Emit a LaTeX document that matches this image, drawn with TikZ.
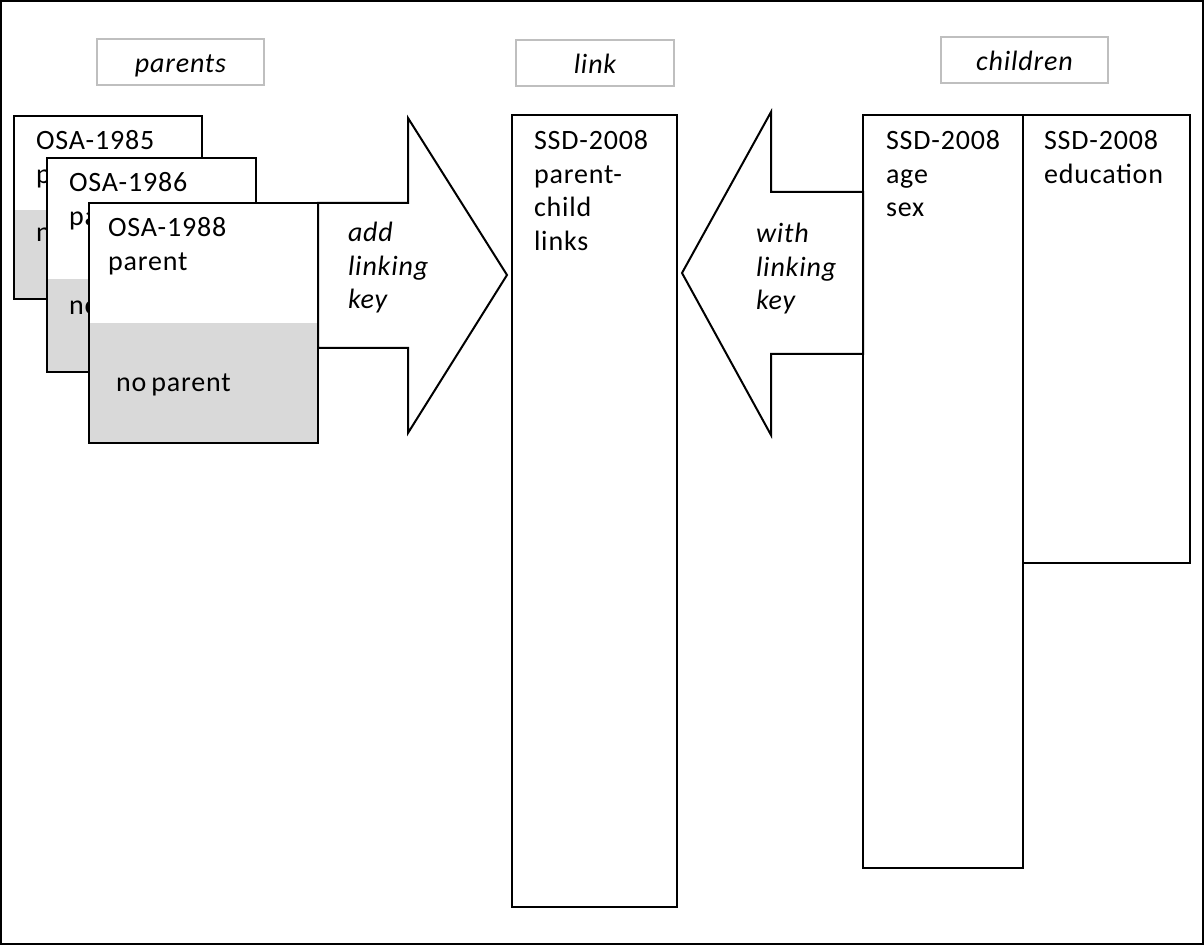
\documentclass[tikz,border=0pt]{standalone}
\usepackage{fontspec}
\setmainfont{Carlito}[LetterSpace=3]
\definecolor{tagline}{RGB}{191,191,191}
\definecolor{nofill}{RGB}{217,217,217}
\tikzset{
  tagbox/.style={draw=tagline, line width=1pt, minimum height=23pt, inner sep=0pt,
    text height=11pt, text depth=0pt, font=\fontsize{14}{16.75}\selectfont\itshape},
  boxtext/.style={anchor=base west, inner sep=0pt, text width=90pt, align=left,
    font=\fontsize{14}{16.75}\selectfont},
  keytext/.style={boxtext, font=\fontsize{14}{16.75}\selectfont\itshape}
}

\begin{document}
\begin{tikzpicture}[x=0.5pt,y=-0.5pt,line width=1pt]
  \useasboundingbox (0,0) rectangle (1204,945);
  \draw (1,1) rectangle (1203,944);
  % Headers
  \node[tagbox, minimum width=83.5pt] (parents) at (180.5,62) {parents};
  \node[tagbox, minimum width=79pt] (link) at (595,63) {link};
  \node[tagbox, minimum width=83.5pt] (children) at (1024.5,60) {children};
  % Parent files, back to front
  \foreach \xa/\ya/\xb/\yb/\yg/\yr/\tx/\nx/\ny in
      {14/116/202/299/210/1985/35/35/242,
       47/158/256/372/279/1986/68/68/315,
       89/203/318/443/323/1988/107/115/392} {
    \fill[white] (\xa,\ya) rectangle (\xb,\yb);
    \fill[nofill] (\xa,\yg) rectangle (\xb,\yb);
    \draw (\xa,\ya) rectangle (\xb,\yb);
    \node[boxtext] (osa\yr) at (\tx,\ya+34) {OSA-\yr\\parent};
    \node[boxtext] (nop\yr) at (\nx,\ny) {no\hspace{0.18em}parent};
  }
  % Arrows
  \draw[fill=white] (318,203) -- (408,203) -- (408,118) -- (507,275)
    -- (408,433) -- (408,348) -- (318,348) -- cycle;
  \node[keytext] (addkey) at (347,242) {add\\linking\\key};
  \draw[fill=white] (863,192) -- (771,192) -- (771,112) -- (682,273)
    -- (771,435) -- (771,354) -- (863,354) -- cycle;
  \node[keytext] (withkey) at (755,243) {with\\linking\\key};
  % Link file
  \draw (512,115) rectangle (677,907);
  \node[boxtext] (pclinks) at (533,150) {SSD-2008\\parent-\\child\\links};
  % Children files
  \draw (863,115) rectangle (1023,868);
  \draw (1023,115) rectangle (1190,563);
  \node[boxtext] (agesex) at (885,150) {SSD-2008\\age\\sex};
  \node[boxtext] (educ) at (1043,150) {SSD-2008\\education};
\end{tikzpicture}
\end{document}
